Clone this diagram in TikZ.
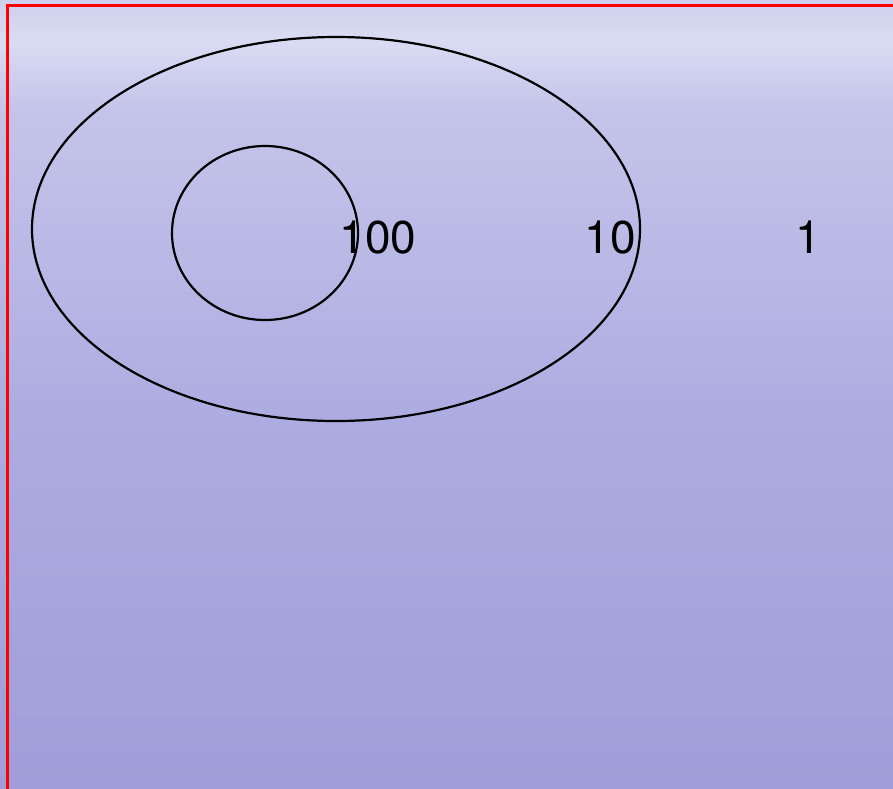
\documentclass[tikz,border=0pt]{standalone}
\usepackage{fontspec}
\newfontfamily\arialf{TeX Gyre Heros}
\usetikzlibrary{shapes.geometric}
\definecolor{bgA}{RGB}{206,208,236}
\definecolor{bgB}{RGB}{218,220,243}
\definecolor{bgC}{RGB}{196,196,234}
\definecolor{bgD}{RGB}{173,172,225}
\definecolor{bgE}{RGB}{160,157,216}
\tikzset{
  ring/.style={draw=black, line width=2.2pt},
  num/.style={inner sep=0pt, anchor=base, font=\arialf\fontsize{46}{50}\selectfont, text=black},
}
\begin{document}
\begin{tikzpicture}[x=1pt,y=-1pt]
\useasboundingbox (0,0) rectangle (893,788);
\shade[top color=bgA, bottom color=bgB] (0,0) rectangle (893,40);
\shade[top color=bgB, bottom color=bgC] (0,40) rectangle (893,110);
\shade[top color=bgC, bottom color=bgD] (0,110) rectangle (893,420);
\shade[top color=bgD, bottom color=bgE] (0,420) rectangle (893,788);
\draw[red, line width=3pt] (7,5) rectangle (905,800);
\node[ring, ellipse, minimum width=608pt, minimum height=384pt, inner sep=0pt] (outer) at (336,229) {};
\node[ring, ellipse, minimum width=186pt, minimum height=174pt, inner sep=0pt] (inner) at (265,233) {};
\node[num] (n100) at (378,253) {100};
\node[num] (n10) at (610,253) {10};
\node[num] (n1) at (808,253) {1};
\end{tikzpicture}
\end{document}
